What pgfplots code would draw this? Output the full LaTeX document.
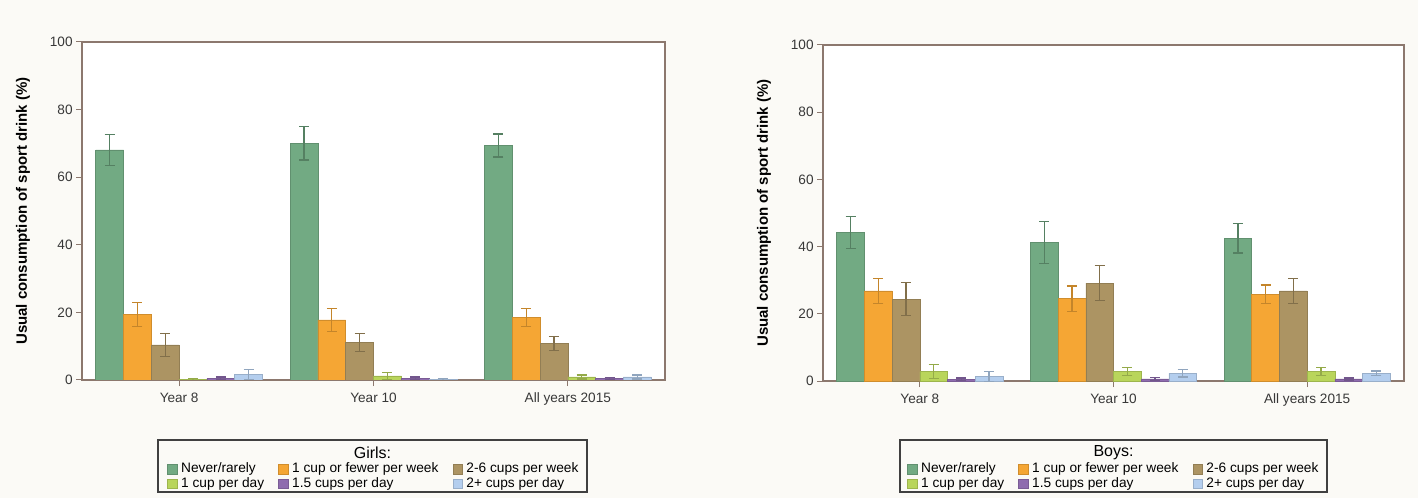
\documentclass[border=0pt]{standalone}
\usepackage{fontspec}
\setmainfont{Liberation Sans}
\usepackage{pgfplots}
\usepackage{pgfplotstable}
\pgfplotsset{compat=1.18}

\definecolor{cG}{RGB}{114,170,131}
\definecolor{cO}{RGB}{245,166,52}
\definecolor{cB}{RGB}{172,148,99}
\definecolor{cL}{RGB}{185,213,91}
\definecolor{cP}{RGB}{143,108,175}
\definecolor{cU}{RGB}{180,206,238}
\definecolor{axc}{RGB}{140,120,110}
\definecolor{bg}{RGB}{251,250,246}

\pgfplotstableread{
x nev nevE one oneE two twoE day dayE half halfE plus plusE
0 68.1 4.6 19.4 3.5 10.4 3.4 0.2 0.3 0.5 0.4 1.7 1.5
1 70.1 5.0 17.8 3.4 11.1 2.7 1.2 1.0 0.5 0.4 0.2 0.3
2 69.4 3.4 18.5 2.6 10.8 2.0 0.9 0.6 0.5 0.3 0.9 0.6
}\girls
\pgfplotstableread{
x nev nevE one oneE two twoE day dayE half halfE plus plusE
0 44.2 4.7 26.8 3.8 24.4 5.0 2.8 2.0 0.5 0.4 1.3 1.5
1 41.2 6.3 24.5 3.8 29.1 5.2 2.8 1.1 0.6 0.5 2.3 1.1
2 42.5 4.4 25.8 2.8 26.8 3.8 2.8 1.2 0.6 0.3 2.3 0.7
}\boys

\pgfplotsset{
  base/.style={
    scale only axis,
    xmin=-0.5, xmax=2.5, ymin=0, ymax=100,
    ytick={0,20,...,100},
    xtick={0,1,2},
    xticklabels={Year 8, Year 10, All years 2015},
    tick align=outside, major tick length=3pt,
    xtick pos=left, ytick pos=left,
    tick style={axc, line width=0.5pt},
    axis line style={axc, line width=0.7pt},
    axis background/.style={fill=white},
    ticklabel style={font=\fontsize{6.8}{8}\selectfont, text=black!78},
    /pgf/number format/assume math mode=true,
    yticklabel style={inner sep=1.5pt},
    ylabel={Usual consumption of sport drink (\%)},
    ylabel style={font=\bfseries\fontsize{7.5}{9}\selectfont, at={(axis description cs:0,0.5)}, anchor=center, yshift=29.5pt},
    legend columns=3,
    legend cell align=left,
    legend style={draw=none, fill=none, anchor=center,
      font=\fontsize{6.85}{8}\selectfont,
      /tikz/every even column/.append style={column sep=6.5pt},
      /tikz/every odd column/.append style={column sep=1.2pt},
      nodes={inner sep=0.6pt, text height=4.9pt, text depth=1.3pt}},
    legend image code/.code={\fill[##1] (0pt,-2.4pt) rectangle (4.8pt,2.4pt);},
  },
  br/.style n args={2}{ybar, bar width=0.143, bar shift=0pt, fill=#1, draw=#1!85!black, line width=0.3pt,
    error bars/.cd, y dir=both, y explicit,
    error bar style={#2, line width=0.6pt},
    error mark options={#2, rotate=90, mark size=2.5pt, line width=0.6pt}},
}

\begin{document}
\begin{tikzpicture}
\useasboundingbox (0,0) rectangle (709pt,249pt);
\fill[bg] (0,0) rectangle (709pt,249pt);

\begin{axis}[base, at={(41pt,59pt)}, anchor=south west, width=291.5pt, height=169pt,
  legend style={at={(0.5,-0.2855)}}]
\addplot[br={cG}{cG!75!black}] table[x expr=\thisrow{x}-0.3575, y=nev, y error=nevE] {\girls};
\addlegendentry{Never/rarely}
\addplot[br={cO}{cO!80!black}] table[x expr=\thisrow{x}-0.2145, y=one, y error=oneE] {\girls};
\addlegendentry{1 cup or fewer per week}
\addplot[br={cB}{cB!75!black}] table[x expr=\thisrow{x}-0.0715, y=two, y error=twoE] {\girls};
\addlegendentry{2-6 cups per week}
\addplot[br={cL}{cL!80!black}] table[x expr=\thisrow{x}+0.0715, y=day, y error=dayE] {\girls};
\addlegendentry{1 cup per day}
\addplot[br={cP}{cP!80!black}] table[x expr=\thisrow{x}+0.2145, y=half, y error=halfE] {\girls};
\addlegendentry{1.5 cups per day}
\addplot[br={cU}{cU!80!black}] table[x expr=\thisrow{x}+0.3575, y=plus, y error=plusE] {\girls};
\addlegendentry{2+ cups per day}
\end{axis}

\begin{axis}[base, at={(411.5pt,58.5pt)}, anchor=south west, width=290.5pt, height=168pt,
  legend style={at={(0.5,-0.2842)}}]
\addplot[br={cG}{cG!75!black}] table[x expr=\thisrow{x}-0.3575, y=nev, y error=nevE] {\boys};
\addlegendentry{Never/rarely}
\addplot[br={cO}{cO!80!black}] table[x expr=\thisrow{x}-0.2145, y=one, y error=oneE] {\boys};
\addlegendentry{1 cup or fewer per week}
\addplot[br={cB}{cB!75!black}] table[x expr=\thisrow{x}-0.0715, y=two, y error=twoE] {\boys};
\addlegendentry{2-6 cups per week}
\addplot[br={cL}{cL!80!black}] table[x expr=\thisrow{x}+0.0715, y=day, y error=dayE] {\boys};
\addlegendentry{1 cup per day}
\addplot[br={cP}{cP!80!black}] table[x expr=\thisrow{x}+0.2145, y=half, y error=halfE] {\boys};
\addlegendentry{1.5 cups per day}
\addplot[br={cU}{cU!80!black}] table[x expr=\thisrow{x}+0.3575, y=plus, y error=plusE] {\boys};
\addlegendentry{2+ cups per day}
\end{axis}

\draw[black!75, line width=0.6pt] (79pt,3pt) rectangle (293.5pt,29pt);
\node[font=\fontsize{8}{9}\selectfont] at (186.25pt,22.5pt) {Girls:};
\draw[black!75, line width=0.6pt] (450pt,3pt) rectangle (663.5pt,29pt);
\node[font=\fontsize{8}{9}\selectfont] at (556.75pt,22.5pt) {Boys:};
\end{tikzpicture}
\end{document}
